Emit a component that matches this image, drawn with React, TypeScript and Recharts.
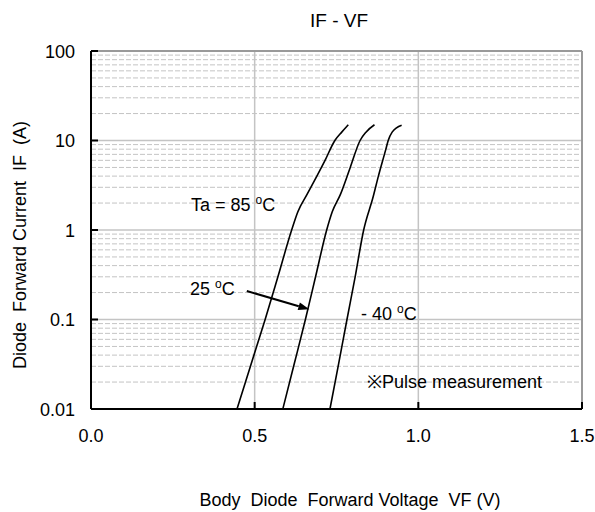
import { LineChart, Line, XAxis, YAxis, ReferenceLine } from "recharts";

// forward voltage (V) vs forward current (A), one pair of arrays per temperature
const vf85 = [0.446, 0.472, 0.506, 0.532, 0.571, 0.613, 0.632, 0.66, 0.69, 0.715, 0.745, 0.766, 0.786];
const if85 = [0.01, 0.02, 0.05, 0.1, 0.3, 1, 1.6, 2.5, 4, 6, 10, 12.4, 15];
const vf25 = [0.586, 0.619, 0.655, 0.686, 0.72, 0.737, 0.762, 0.792, 0.822, 0.84, 0.866];
const if25 = [0.01, 0.03, 0.1, 0.3, 1, 1.6, 2.5, 5, 10, 12.4, 15];
const vfM40 = [0.73, 0.755, 0.782, 0.807, 0.833, 0.862, 0.878, 0.9, 0.908, 0.92, 0.949];
const ifM40 = [0.01, 0.03, 0.1, 0.3, 1, 2.35, 4, 7.8, 10, 12.4, 14.8];

const xTicks = [0, 0.5, 1.0, 1.5];
const yTicks = [0.01, 0.1, 1, 10, 100];
const minorSteps = [2, 3, 4, 5, 6, 7, 8, 9];
const decades = [0.01, 0.1, 1, 10];
const minorY = decades.flatMap((d) => minorSteps.map((m) => +(d * m).toPrecision(3)));

// arrow from the "25 oC" label to its curve
const arrowFrom = { x: 0.476, y: 0.208 };
const arrowTo = { x: 0.667, y: 0.13 };

const toSeries = (vf: number[], cur: number[]) => vf.map((v, i) => ({ vf: v, i: cur[i] }));
const curves = [toSeries(vf85, if85), toSeries(vf25, if25), toSeries(vfM40, ifM40)];

const FONT = '"Liberation Sans", Arial, sans-serif';
const W = 595;
const H = 512;

function YTick({ x, y, payload }: any) {
	return (
		<g>
			<line x1={x} x2={x + 7} y1={y} y2={y} stroke="#000" strokeWidth={2} />
			<text x={x - 16} y={y + 6.5} textAnchor="end" fontSize={18} fill="#000" fontFamily={FONT}>
				{String(payload.value)}
			</text>
		</g>
	);
}

function XTick({ x, y, payload }: any) {
	return (
		<g>
			<line x1={x} x2={x} y1={y} y2={y - 7} stroke="#000" strokeWidth={2} />
			<text x={x} y={y + 32.5} textAnchor="middle" fontSize={18} fill="#000" fontFamily={FONT}>
				{Number(payload.value).toFixed(1)}
			</text>
		</g>
	);
}

function Arrow(props: any) {
	const { x1, y1, x2, y2 } = props;
	const a = Math.atan2(y2 - y1, x2 - x1);
	const len = 11;
	const half = 4;
	const bx = x2 - len * Math.cos(a);
	const by = y2 - len * Math.sin(a);
	const px = -Math.sin(a) * half;
	const py = Math.cos(a) * half;
	return (
		<g>
			<line x1={x1} y1={y1} x2={bx} y2={by} stroke="#000" strokeWidth={2} />
			<polygon points={`${x2},${y2} ${bx + px},${by + py} ${bx - px},${by - py}`} fill="#000" />
		</g>
	);
}

function Degree() {
	return (
		<tspan fontSize={12} dy={-7}>
			o
		</tspan>
	);
}

export default function App() {
	return (
		<div style={{ position: "relative", width: W, height: H, background: "#fff" }}>
			<style>{"body{margin:0}"}</style>
			<LineChart width={W} height={H} data={curves[0]} margin={{ top: 51, right: 13, bottom: 0, left: 0 }}>
				{minorY.map((v) => (
					<ReferenceLine key={`m${v}`} y={v} stroke="#c4c4c4" strokeWidth={1} strokeDasharray="5 2" />
				))}
				{[0.1, 1, 10].map((v) => (
					<ReferenceLine key={`M${v}`} y={v} stroke="#c4c4c4" strokeWidth={1.5} />
				))}
				{[0.5, 1.0].map((v) => (
					<ReferenceLine key={`v${v}`} x={v} stroke="#c4c4c4" strokeWidth={1.5} />
				))}
				<ReferenceLine y={100} stroke="#9a9a9a" strokeWidth={2} />
				<ReferenceLine x={1.5} stroke="#9a9a9a" strokeWidth={2} />
				<XAxis
					type="number"
					dataKey="vf"
					domain={[0, 1.5]}
					ticks={xTicks}
					allowDataOverflow
					height={103}
					tickSize={0}
					tickMargin={0}
					axisLine={{ stroke: "#000", strokeWidth: 2 }}
					tick={<XTick />}
				/>
				<YAxis
					type="number"
					scale="log"
					domain={[0.01, 100]}
					ticks={yTicks}
					allowDataOverflow
					width={91}
					tickSize={0}
					tickMargin={0}
					axisLine={{ stroke: "#000", strokeWidth: 2 }}
					tick={<YTick />}
				/>
				{curves.map((c, k) => (
					<Line
						key={k}
						data={c}
						dataKey="i"
						type="monotone"
						stroke="#000"
						strokeWidth={1.6}
						dot={false}
						isAnimationActive={false}
					/>
				))}
				<ReferenceLine segment={[arrowFrom, arrowTo]} shape={<Arrow />} />
			</LineChart>
			<svg
				width={W}
				height={H}
				xmlSpace="preserve"
				style={{ position: "absolute", left: 0, top: 0, pointerEvents: "none" }}
				fontFamily={FONT}
				fill="#000"
			>
				<text x={339} y={26.5} textAnchor="middle" fontSize={19}>
					{"IF - VF"}
				</text>
				<text x={350} y={506} textAnchor="middle" fontSize={18} style={{ whiteSpace: "pre" }}>
					{"Body  Diode  Forward Voltage  VF (V)"}
				</text>
				<text
					transform="translate(25.5,245) rotate(-90)"
					textAnchor="middle"
					fontSize={18}
					style={{ whiteSpace: "pre" }}
				>
					{"Diode  Forward Current  IF  (A)"}
				</text>
				<text x={191} y={211} fontSize={18}>
					{"Ta = 85 "}
					<Degree />
					<tspan dy={7}>C</tspan>
				</text>
				<text x={190} y={295} fontSize={18}>
					{"25 "}
					<Degree />
					<tspan dy={7}>C</tspan>
				</text>
				<text x={361} y={320} fontSize={18}>
					{"- 40 "}
					<Degree />
					<tspan dy={7}>C</tspan>
				</text>
				<text x={367} y={388} fontSize={18}>
					{"※Pulse measurement"}
				</text>
			</svg>
		</div>
	);
}
